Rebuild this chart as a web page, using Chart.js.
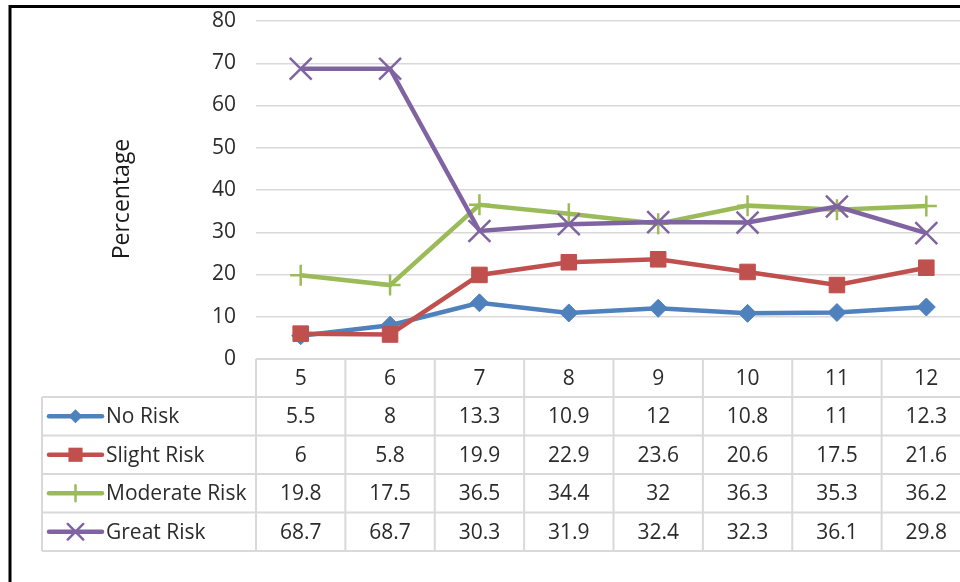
<!DOCTYPE html>
<html>
<head>
<meta charset="utf-8">
<script src="https://cdn.jsdelivr.net/npm/chart.js@4/dist/chart.umd.min.js"></script>
<style>
  html, body { margin: 0; padding: 0; background: #fff; width: 960px; height: 582px; overflow: hidden; }
  #wrap { position: absolute; left: 0; top: 0; width: 1000px; height: 582px; }
</style>
</head>
<body>
<div id="wrap"><canvas id="c" width="1000" height="582"></canvas></div>
<script>
// Age groups along the x axis
const categories = ['5', '6', '7', '8', '9', '10', '11', '12'];

// Percentage per risk level
const noRisk       = [5.5, 8, 13.3, 10.9, 12, 10.8, 11, 12.3];
const slightRisk   = [6, 5.8, 19.9, 22.9, 23.6, 20.6, 17.5, 21.6];
const moderateRisk = [19.8, 17.5, 36.5, 34.4, 32, 36.3, 35.3, 36.2];
const greatRisk    = [68.7, 68.7, 30.3, 31.9, 32.4, 32.3, 36.1, 29.8];

const seriesNames = ['No Risk', 'Slight Risk', 'Moderate Risk', 'Great Risk'];
const yTickValues = [0, 10, 20, 30, 40, 50, 60, 70, 80];
const yAxisTitle = 'Percentage';

const FONT = '"Open Sans", Lato, sans-serif';
const TEXT = '#2b2b2b';
const GRID = '#d9d9d9';

const styles = [
  { color: '#4F81BD', point: 'rectRot',  radius: 9,    bw: 1,   lr: 7 },
  { color: '#C0504D', point: 'rect',     radius: 11,   bw: 1,   lr: 10 },
  { color: '#9BBB59', point: 'cross',    radius: 10.5, bw: 2.5, lr: 8 },
  { color: '#8064A2', point: 'crossRot', radius: 15.5, bw: 2.5, lr: 11 }
];
const seriesValues = [noRisk, slightRisk, moderateRisk, greatRisk];

// Small legend marker used inside the data table
function drawMarker(ctx, type, x, y, r, color, bw) {
  ctx.save();
  ctx.fillStyle = color;
  ctx.strokeStyle = color;
  ctx.lineWidth = bw;
  ctx.beginPath();
  if (type === 'rectRot') {
    ctx.moveTo(x - r, y); ctx.lineTo(x, y - r); ctx.lineTo(x + r, y); ctx.lineTo(x, y + r);
    ctx.closePath(); ctx.fill();
  } else if (type === 'rect') {
    const s = r * Math.SQRT1_2;
    ctx.rect(x - s, y - s, 2 * s, 2 * s); ctx.fill();
  } else if (type === 'cross') {
    ctx.moveTo(x, y - r); ctx.lineTo(x, y + r);
    ctx.moveTo(x - r, y); ctx.lineTo(x + r, y); ctx.stroke();
  } else {
    const d = r * Math.SQRT1_2;
    ctx.moveTo(x - d, y - d); ctx.lineTo(x + d, y + d);
    ctx.moveTo(x + d, y - d); ctx.lineTo(x - d, y + d); ctx.stroke();
  }
  ctx.restore();
}

// Frame, axis title and the data table under the plot
const decorPlugin = {
  id: 'decor',
  afterDraw(chart) {
    const ctx = chart.ctx;
    const area = chart.chartArea;
    const xs = chart.scales.x;
    const n = categories.length;
    const colW = (area.right - area.left) / n;
    const tableLeft = 42;
    const top = area.bottom;
    const rowY = [top, top + 38, top + 76.5, top + 115, top + 153.5, top + 192];
    const tableBottom = rowY[rowY.length - 1];
    const rightEdge = area.right + 2;

    ctx.save();
    // grid of the table
    ctx.strokeStyle = GRID;
    ctx.lineWidth = 2;
    ctx.beginPath();
    ctx.moveTo(area.left, rowY[0]); ctx.lineTo(rightEdge, rowY[0]);
    for (let i = 1; i < rowY.length; i++) {
      ctx.moveTo(tableLeft, rowY[i]); ctx.lineTo(rightEdge, rowY[i]);
    }
    ctx.moveTo(tableLeft, rowY[1]); ctx.lineTo(tableLeft, tableBottom);
    for (let k = 0; k <= n; k++) {
      const x = area.left + k * colW;
      ctx.moveTo(x, rowY[0]); ctx.lineTo(x, tableBottom);
    }
    ctx.stroke();

    // category header and values
    ctx.fillStyle = TEXT;
    ctx.font = '21px ' + FONT;
    ctx.textAlign = 'center';
    ctx.textBaseline = 'middle';
    categories.forEach((c, i) => {
      const x = xs.getPixelForValue(i);
      ctx.fillText(c, x, (rowY[0] + rowY[1]) / 2 + 1);
      seriesValues.forEach((vals, s) => {
        ctx.fillText(String(vals[i]), x, (rowY[s + 1] + rowY[s + 2]) / 2 + 1);
      });
    });

    // legend keys in the first column
    ctx.textAlign = 'left';
    seriesNames.forEach((name, s) => {
      const y = (rowY[s + 1] + rowY[s + 2]) / 2;
      const st = styles[s];
      ctx.strokeStyle = st.color;
      ctx.lineWidth = 4.5;
      ctx.lineCap = 'round';
      ctx.beginPath(); ctx.moveTo(49, y); ctx.lineTo(102, y); ctx.stroke();
      drawMarker(ctx, st.point, 75.5, y, st.lr, st.color, st.bw);
      ctx.fillStyle = TEXT;
      ctx.fillText(name, 106, y + 1);
    });

    // y axis title
    ctx.save();
    ctx.translate(122, 199);
    ctx.rotate(-Math.PI / 2);
    ctx.textAlign = 'center';
    ctx.fillStyle = '#1a1a1a';
    ctx.font = '23px ' + FONT;
    ctx.fillText(yAxisTitle, 0, 0);
    ctx.restore();

    // outer frame
    ctx.strokeStyle = '#000';
    ctx.lineWidth = 3;
    ctx.lineCap = 'butt';
    ctx.beginPath();
    ctx.moveTo(10, 5); ctx.lineTo(10, 582);
    ctx.moveTo(8.5, 6.5); ctx.lineTo(1000, 6.5);
    ctx.stroke();
    ctx.restore();
  }
};

new Chart(document.getElementById('c'), {
  type: 'line',
  data: {
    labels: categories,
    datasets: seriesNames.map((name, s) => ({
      label: name,
      data: seriesValues[s],
      borderColor: styles[s].color,
      backgroundColor: styles[s].color,
      pointBackgroundColor: styles[s].color,
      pointBorderColor: styles[s].color,
      pointStyle: styles[s].point,
      pointRadius: styles[s].radius,
      pointBorderWidth: styles[s].bw,
      borderWidth: 4.5,
      tension: 0,
      order: seriesNames.length - s
    }))
  },
  options: {
    responsive: false,
    animation: false,
    events: [],
    layout: { padding: { left: 0, right: 29, top: 21, bottom: 223 } },
    plugins: { legend: { display: false }, tooltip: { enabled: false }, title: { display: false } },
    scales: {
      x: { type: 'category', offset: true, display: false },
      y: {
        min: 0, max: 80,
        afterFit(scale) {
          scale.width = 256;
          scale.paddingTop = 0;
          scale.paddingBottom = 0;
        },
        afterBuildTicks(scale) { scale.ticks = yTickValues.map(v => ({ value: v })); },
        border: { display: false },
        grid: { color: GRID, lineWidth: 1.5, drawTicks: false },
        ticks: { padding: 20, color: TEXT, font: { family: FONT, size: 21 } }
      }
    }
  },
  plugins: [decorPlugin]
});
</script>
</body>
</html>
